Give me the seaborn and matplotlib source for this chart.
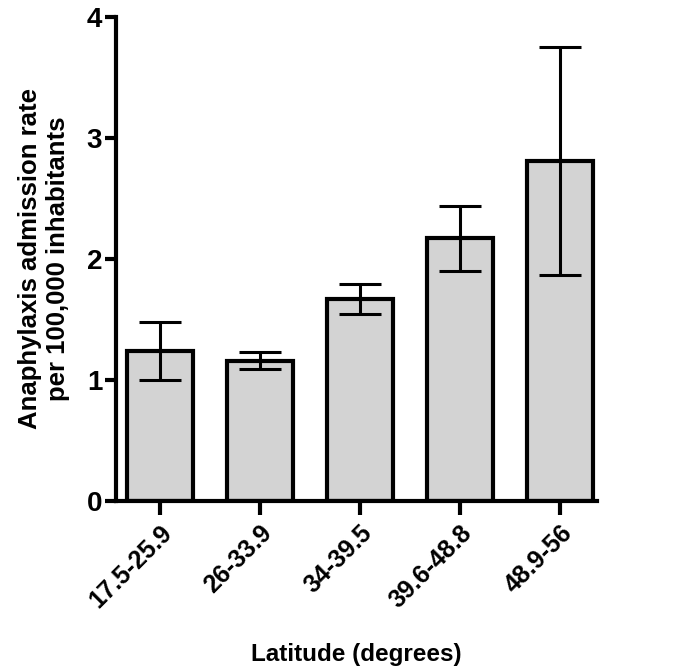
import matplotlib
matplotlib.use("Agg")
import matplotlib.pyplot as plt
import seaborn as sns
import pandas as pd

# values
latitude_bands = ["17.5-25.9", "26-33.9", "34-39.5", "39.6-48.8", "48.9-56"]
admission_rate = [1.24, 1.16, 1.67, 2.17, 2.81]
rate_error = [0.24, 0.07, 0.125, 0.27, 0.94]
y_ticks = [0, 1, 2, 3, 4]

df = pd.DataFrame({"band": latitude_bands, "rate": admission_rate, "err": rate_error})

sns.set_style("ticks")
plt.rcParams["font.family"] = ["Liberation Sans", "DejaVu Sans"]
plt.rcParams["font.weight"] = "bold"
plt.rcParams["text.color"] = "black"
plt.rcParams["axes.labelcolor"] = "black"
plt.rcParams["axes.edgecolor"] = "black"

fig = plt.figure(figsize=(6.75, 6.68), dpi=100)
ax = fig.add_axes([0.172, 0.25, 0.712, 0.7246])

sns.barplot(
    data=df, x="band", y="rate", ax=ax, errorbar=None, width=0.66,
    color="#d3d3d3", edgecolor="black", linewidth=3, saturation=1,
)
ax.errorbar(
    x=range(len(df)), y=df["rate"], yerr=df["err"], fmt="none",
    ecolor="black", elinewidth=2.2, capsize=15, capthick=2.2, zorder=5,
)

ax.set_xlim(-0.44, 4.37)
ax.set_ylim(0, 4)
ax.set_yticks(y_ticks)
ax.set_yticklabels([str(t) for t in y_ticks], fontsize=20, fontweight="bold")
ax.set_xticks(range(len(latitude_bands)))
ax.set_xticklabels(latitude_bands, rotation=45, ha="right", rotation_mode="anchor",
                   fontsize=18, fontweight="bold")

for side in ["left", "bottom"]:
    ax.spines[side].set_linewidth(3)
ax.spines["top"].set_visible(False)
ax.spines["right"].set_visible(False)
ax.tick_params(axis="y", length=8, width=3, pad=2, colors="black")
ax.tick_params(axis="x", length=10, width=3, pad=4, colors="black")

ax.set_ylabel("Anaphylaxis admission rate\nper 100,000 inhabitants", fontsize=18.5,
              fontweight="bold", labelpad=12, color="black")
ax.set_xlabel("Latitude (degrees)", fontsize=17.5, fontweight="bold", labelpad=22,
              color="black")

fig.savefig("out.png", dpi=100)
